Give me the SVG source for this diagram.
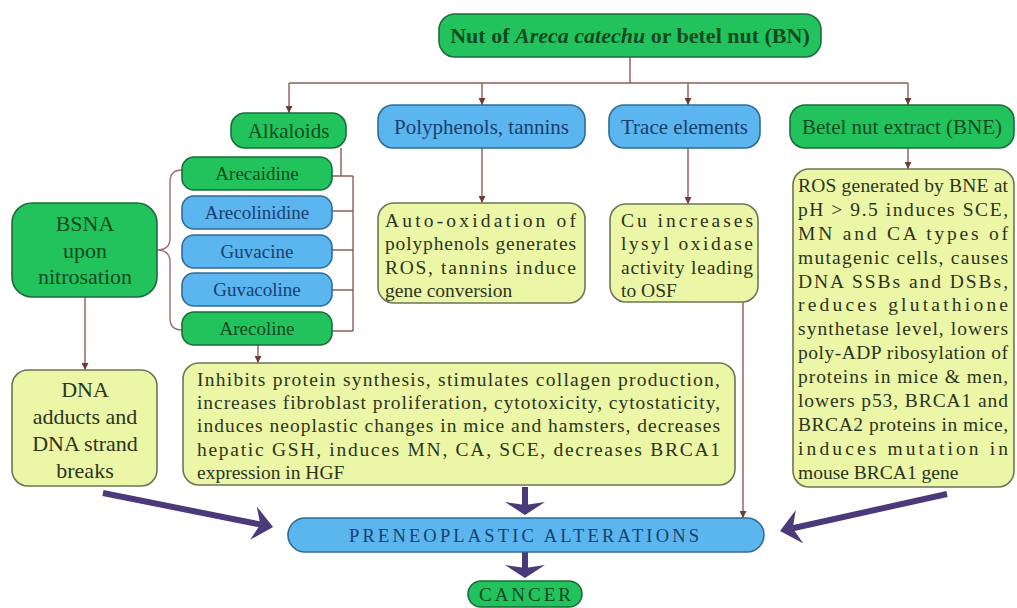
<svg xmlns="http://www.w3.org/2000/svg" width="1017" height="608" viewBox="0 0 1017 608" font-family="'Liberation Serif', 'Times New Roman', 'DejaVu Serif', serif">
<style>
.g{fill:#22c35d;stroke:#1d6b3b;stroke-width:1.6}
.b{fill:#5bb5ef;stroke:#2f6b98;stroke-width:1.6}
.y{fill:#ebf6a6;stroke:#6c7556;stroke-width:1.6}
.conn{stroke:#8e5b5b;stroke-width:1.4;fill:none}
.brace{stroke:#9c6e6e;stroke-width:1.4;fill:none}
.thick{stroke:#4a3a7a;stroke-width:6;fill:none}
.tg{fill:#0f4a22}
.tb{fill:#1a3f6e}
.ty{fill:#2b3520;font-size:19.5px}
.h{font-size:21px;text-anchor:middle}
.al{font-size:19px;text-anchor:middle}
.big{font-size:22px;text-anchor:middle}
</style>
<defs>
<marker id="ah" markerUnits="userSpaceOnUse" viewBox="0 0 7 7" refX="7" refY="3.5" markerWidth="7" markerHeight="7" orient="auto"><path d="M0,0 L7,3.5 L0,7 Z" fill="#6e3b3b"/></marker>
<marker id="side" markerUnits="userSpaceOnUse" viewBox="0 0 20 34" refX="7" refY="17" markerWidth="20" markerHeight="34" orient="auto"><path d="M0,0 L20,17 L0,34 L7,17 Z" fill="#4a3a7a"/></marker>
<marker id="down" markerUnits="userSpaceOnUse" viewBox="0 0 14 40" refX="3" refY="20" markerWidth="14" markerHeight="40" orient="auto"><path d="M0,0 L13,20 L0,40 L3,20 Z" fill="#4a3a7a"/></marker>
</defs>

<g id="connectors">
<path class="conn" d="M630,57 V83 M289,83 H908"/>
<path class="conn" d="M289,83 V113" marker-end="url(#ah)"/>
<path class="conn" d="M482,83 V105" marker-end="url(#ah)"/>
<path class="conn" d="M688,83 V105" marker-end="url(#ah)"/>
<path class="conn" d="M908,83 V105" marker-end="url(#ah)"/>
<path class="conn" d="M482,148 V203" marker-end="url(#ah)"/>
<path class="conn" d="M688,148 V204" marker-end="url(#ah)"/>
<path class="conn" d="M908,148 V169" marker-end="url(#ah)"/>
<path class="conn" d="M258,345 V363" marker-end="url(#ah)"/>
<path class="conn" d="M85,297 V370" marker-end="url(#ah)"/>
<path class="conn" d="M743,302 V518" marker-end="url(#ah)"/>
<path class="conn" d="M341,148 V176 M332,176 H353 M332,211 H353 M332,250 H353 M332,290 H353 M332,331 H353 M353,176 V331"/>
<path class="brace" d="M182,170 Q170,170 170,182 L170,238 Q170,250 157,250 Q170,250 170,262 L170,318 Q170,330 182,330"/>
<path class="thick" d="M103,493 L260.3,524.5" marker-end="url(#side)"/>
<path class="thick" d="M947,494 L792.7,528.2" marker-end="url(#side)"/>
<path class="thick" d="M525,487 V505" marker-end="url(#down)"/>
<path class="thick" d="M525,552 V568" marker-end="url(#down)"/>
</g>

<g id="title">
<rect class="g" x="439" y="14" width="382" height="43" rx="16"/>
<text x="630" y="43" text-anchor="middle" font-size="22" font-weight="bold" class="tg">Nut of <tspan font-style="italic">Areca catechu</tspan> or betel nut (BN)</text>
</g>

<g id="alkaloids">
<rect class="g" x="231" y="113" width="115" height="35" rx="14"/>
<text class="h tg" x="288.5" y="137.5">Alkaloids</text>
</g>
<g id="polyphenols">
<rect class="b" x="378" y="105" width="207" height="43" rx="15"/>
<text class="h tb" x="481.5" y="134">Polyphenols, tannins</text>
</g>
<g id="trace">
<rect class="b" x="609" y="105" width="151" height="43" rx="15"/>
<text class="h tb" x="684.5" y="134">Trace elements</text>
</g>
<g id="bne">
<rect class="g" x="790" y="105" width="224" height="43" rx="15"/>
<text class="h tg" x="902" y="134">Betel nut extract (BNE)</text>
</g>

<g id="arecaidine">
<rect class="g" x="182" y="157" width="150" height="33" rx="12"/>
<text class="al tg" x="257" y="180">Arecaidine</text>
</g>
<g id="arecolinidine">
<rect class="b" x="182" y="196" width="150" height="33" rx="12"/>
<text class="al tb" x="257" y="219">Arecolinidine</text>
</g>
<g id="guvacine">
<rect class="b" x="182" y="235" width="150" height="33" rx="12"/>
<text class="al tb" x="257" y="258">Guvacine</text>
</g>
<g id="guvacoline">
<rect class="b" x="182" y="273" width="150" height="33" rx="12"/>
<text class="al tb" x="257" y="296">Guvacoline</text>
</g>
<g id="arecoline">
<rect class="g" x="182" y="312" width="150" height="33" rx="12"/>
<text class="al tg" x="257" y="335">Arecoline</text>
</g>

<g id="bsna">
<rect class="g" x="12" y="203" width="145" height="94" rx="20"/>
<text class="big tg" x="85" y="231">BSNA</text>
<text class="big tg" x="85" y="257.5">upon</text>
<text class="big tg" x="85" y="284">nitrosation</text>
</g>

<g id="dna">
<rect class="y" x="12" y="370" width="145" height="116" rx="16"/>
<text class="big" fill="#2b3520" x="85" y="397">DNA</text>
<text class="big" fill="#2b3520" x="85" y="424">adducts and</text>
<text class="big" fill="#2b3520" x="85" y="451">DNA strand</text>
<text class="big" fill="#2b3520" x="85" y="478">breaks</text>
</g>

<g id="autoox">
<rect class="y" x="378" y="203" width="207" height="100" rx="16"/>
<text class="ty" x="385" y="227" textLength="191" lengthAdjust="spacing">Auto-oxidation of</text>
<text class="ty" x="385" y="250" textLength="191" lengthAdjust="spacing">polyphenols generates</text>
<text class="ty" x="385" y="274" textLength="191" lengthAdjust="spacing">ROS, tannins induce</text>
<text class="ty" x="385" y="297">gene conversion</text>
</g>

<g id="cu">
<rect class="y" x="610" y="204" width="148" height="98" rx="16"/>
<text class="ty" x="621" y="227" textLength="132" lengthAdjust="spacing">Cu increases</text>
<text class="ty" x="621" y="250" textLength="132" lengthAdjust="spacing">lysyl oxidase</text>
<text class="ty" x="621" y="274" textLength="132" lengthAdjust="spacing">activity leading</text>
<text class="ty" x="621" y="297">to OSF</text>
</g>

<g id="inhibits">
<rect class="y" x="183" y="363" width="552" height="122" rx="16"/>
<text class="ty" x="197" y="386" textLength="523" lengthAdjust="spacing">Inhibits protein synthesis, stimulates collagen production,</text>
<text class="ty" x="197" y="409" textLength="523" lengthAdjust="spacing">increases fibroblast proliferation, cytotoxicity, cytostaticity,</text>
<text class="ty" x="197" y="432" textLength="523" lengthAdjust="spacing">induces neoplastic changes in mice and hamsters, decreases</text>
<text class="ty" x="197" y="456" textLength="523" lengthAdjust="spacing">hepatic GSH, induces MN, CA, SCE, decreases BRCA1</text>
<text class="ty" x="197" y="479">expression in HGF</text>
</g>

<g id="bne-effects">
<rect class="y" x="793" y="169" width="221" height="318" rx="16"/>
<text class="ty" x="798" y="192" textLength="210" lengthAdjust="spacing">ROS generated by BNE at</text>
<text class="ty" x="798" y="216" textLength="210" lengthAdjust="spacing">pH &gt; 9.5 induces SCE,</text>
<text class="ty" x="798" y="240" textLength="210" lengthAdjust="spacing">MN and CA types of</text>
<text class="ty" x="798" y="264" textLength="210" lengthAdjust="spacing">mutagenic cells, causes</text>
<text class="ty" x="798" y="288" textLength="210" lengthAdjust="spacing">DNA SSBs and DSBs,</text>
<text class="ty" x="798" y="311" textLength="210" lengthAdjust="spacing">reduces glutathione</text>
<text class="ty" x="798" y="335" textLength="210" lengthAdjust="spacing">synthetase level, lowers</text>
<text class="ty" x="798" y="359" textLength="210" lengthAdjust="spacing">poly-ADP ribosylation of</text>
<text class="ty" x="798" y="383" textLength="210" lengthAdjust="spacing">proteins in mice &amp; men,</text>
<text class="ty" x="798" y="407" textLength="210" lengthAdjust="spacing">lowers p53, BRCA1 and</text>
<text class="ty" x="798" y="431" textLength="210" lengthAdjust="spacing">BRCA2 proteins in mice,</text>
<text class="ty" x="798" y="455" textLength="210" lengthAdjust="spacing">induces mutation in</text>
<text class="ty" x="798" y="479">mouse BRCA1 gene</text>
</g>

<g id="preneoplastic">
<rect class="b" x="288" y="518" width="476" height="34" rx="17"/>
<text class="tb" x="349" y="542" font-size="18.5" textLength="350" lengthAdjust="spacing">PRENEOPLASTIC ALTERATIONS</text>
</g>

<g id="cancer">
<rect class="g" x="468" y="581" width="114" height="26" rx="13"/>
<text class="tg" x="479" y="601" font-size="19" textLength="92" lengthAdjust="spacing">CANCER</text>
</g>
</svg>
